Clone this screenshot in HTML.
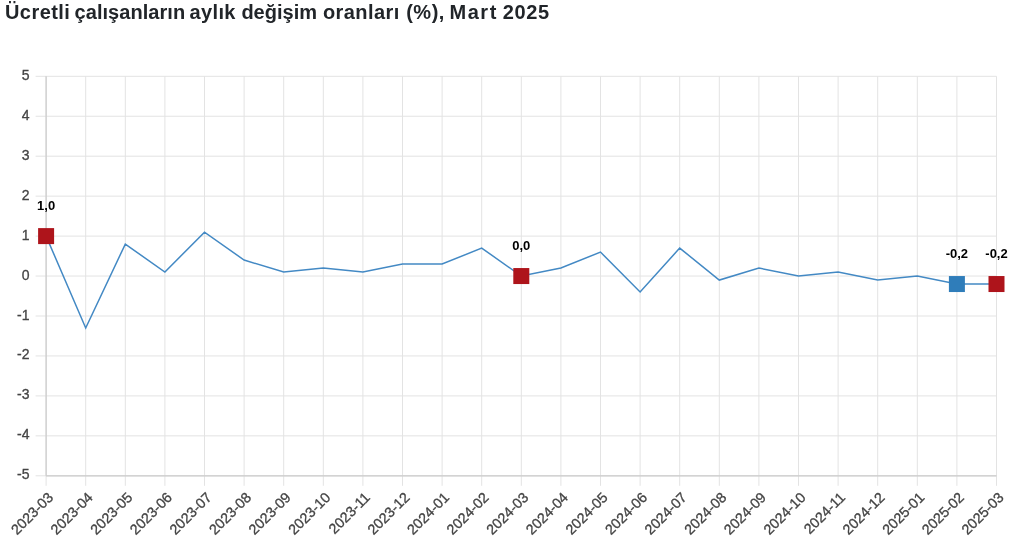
<!DOCTYPE html>
<html lang="tr"><head><meta charset="utf-8"><title>Ücretli çalışanların aylık değişim oranları</title>
<style>
html,body{margin:0;padding:0;background:#fff;}
body{width:1024px;height:558px;overflow:hidden;position:relative;font-family:"Liberation Sans",sans-serif;}
h1{position:absolute;left:0;top:-0.4px;margin:0;font-size:20px;line-height:24px;font-weight:bold;color:#212529;white-space:nowrap;width:1024px;height:24px;}
h1 span{position:absolute;top:0;}
svg{position:absolute;left:0;top:0;}
svg text{font-family:"Liberation Sans",sans-serif;}
.yt{font-size:14px;fill:#444;text-anchor:end;stroke:#444;stroke-width:0.3px;}
.xt{font-size:14.3px;fill:#444;text-anchor:end;stroke:#444;stroke-width:0.3px;}
.dl{font-size:13px;font-weight:bold;fill:#000;text-anchor:middle;}
</style></head><body>
<h1><span style="left:5.0px;letter-spacing:0.43px">Ücretli</span> <span style="left:74.6px;letter-spacing:0.04px">çalışanların</span> <span style="left:189.6px;letter-spacing:0.35px">aylık</span> <span style="left:241.4px;letter-spacing:0.0px">değişim</span> <span style="left:322.9px;letter-spacing:0.44px">oranları</span> <span style="left:406.2px;letter-spacing:0.5px">(%),</span> <span style="left:449.4px;letter-spacing:1.6px">Mart</span> <span style="left:502.7px;letter-spacing:0.67px">2025</span></h1>
<svg width="1024" height="558" viewBox="0 0 1024 558">
<g stroke="#e3e3e3" stroke-width="1" fill="none"><line x1="35.60" y1="475.80" x2="996.50" y2="475.80"/><line x1="35.60" y1="435.85" x2="996.50" y2="435.85"/><line x1="35.60" y1="395.90" x2="996.50" y2="395.90"/><line x1="35.60" y1="355.95" x2="996.50" y2="355.95"/><line x1="35.60" y1="316.00" x2="996.50" y2="316.00"/><line x1="35.60" y1="276.05" x2="996.50" y2="276.05"/><line x1="35.60" y1="236.10" x2="996.50" y2="236.10"/><line x1="35.60" y1="196.15" x2="996.50" y2="196.15"/><line x1="35.60" y1="156.20" x2="996.50" y2="156.20"/><line x1="35.60" y1="116.25" x2="996.50" y2="116.25"/><line x1="35.60" y1="76.30" x2="996.50" y2="76.30"/><line x1="46.10" y1="76.30" x2="46.10" y2="485.80"/><line x1="85.70" y1="76.30" x2="85.70" y2="485.80"/><line x1="125.30" y1="76.30" x2="125.30" y2="485.80"/><line x1="164.90" y1="76.30" x2="164.90" y2="485.80"/><line x1="204.50" y1="76.30" x2="204.50" y2="485.80"/><line x1="244.10" y1="76.30" x2="244.10" y2="485.80"/><line x1="283.70" y1="76.30" x2="283.70" y2="485.80"/><line x1="323.30" y1="76.30" x2="323.30" y2="485.80"/><line x1="362.90" y1="76.30" x2="362.90" y2="485.80"/><line x1="402.50" y1="76.30" x2="402.50" y2="485.80"/><line x1="442.10" y1="76.30" x2="442.10" y2="485.80"/><line x1="481.70" y1="76.30" x2="481.70" y2="485.80"/><line x1="521.30" y1="76.30" x2="521.30" y2="485.80"/><line x1="560.90" y1="76.30" x2="560.90" y2="485.80"/><line x1="600.50" y1="76.30" x2="600.50" y2="485.80"/><line x1="640.10" y1="76.30" x2="640.10" y2="485.80"/><line x1="679.70" y1="76.30" x2="679.70" y2="485.80"/><line x1="719.30" y1="76.30" x2="719.30" y2="485.80"/><line x1="758.90" y1="76.30" x2="758.90" y2="485.80"/><line x1="798.50" y1="76.30" x2="798.50" y2="485.80"/><line x1="838.10" y1="76.30" x2="838.10" y2="485.80"/><line x1="877.70" y1="76.30" x2="877.70" y2="485.80"/><line x1="917.30" y1="76.30" x2="917.30" y2="485.80"/><line x1="956.90" y1="76.30" x2="956.90" y2="485.80"/><line x1="996.50" y1="76.30" x2="996.50" y2="485.80"/></g>
<line x1="46.10" y1="76.30" x2="46.10" y2="475.80" stroke="#cbcbcb" stroke-width="1.2"/>
<line x1="46.10" y1="475.80" x2="996.50" y2="475.80" stroke="#cbcbcb" stroke-width="1.2"/>
<text class="yt" x="29.5" y="479.30">-5</text><text class="yt" x="29.5" y="439.35">-4</text><text class="yt" x="29.5" y="399.40">-3</text><text class="yt" x="29.5" y="359.45">-2</text><text class="yt" x="29.5" y="319.50">-1</text><text class="yt" x="29.5" y="279.55">0</text><text class="yt" x="29.5" y="239.60">1</text><text class="yt" x="29.5" y="199.65">2</text><text class="yt" x="29.5" y="159.70">3</text><text class="yt" x="29.5" y="119.75">4</text><text class="yt" x="29.5" y="79.80">5</text>
<text class="xt" transform="translate(54.10,498.30) rotate(-45)">2023-03</text><text class="xt" transform="translate(93.70,498.30) rotate(-45)">2023-04</text><text class="xt" transform="translate(133.30,498.30) rotate(-45)">2023-05</text><text class="xt" transform="translate(172.90,498.30) rotate(-45)">2023-06</text><text class="xt" transform="translate(212.50,498.30) rotate(-45)">2023-07</text><text class="xt" transform="translate(252.10,498.30) rotate(-45)">2023-08</text><text class="xt" transform="translate(291.70,498.30) rotate(-45)">2023-09</text><text class="xt" transform="translate(331.30,498.30) rotate(-45)">2023-10</text><text class="xt" transform="translate(370.90,498.30) rotate(-45)">2023-11</text><text class="xt" transform="translate(410.50,498.30) rotate(-45)">2023-12</text><text class="xt" transform="translate(450.10,498.30) rotate(-45)">2024-01</text><text class="xt" transform="translate(489.70,498.30) rotate(-45)">2024-02</text><text class="xt" transform="translate(529.30,498.30) rotate(-45)">2024-03</text><text class="xt" transform="translate(568.90,498.30) rotate(-45)">2024-04</text><text class="xt" transform="translate(608.50,498.30) rotate(-45)">2024-05</text><text class="xt" transform="translate(648.10,498.30) rotate(-45)">2024-06</text><text class="xt" transform="translate(687.70,498.30) rotate(-45)">2024-07</text><text class="xt" transform="translate(727.30,498.30) rotate(-45)">2024-08</text><text class="xt" transform="translate(766.90,498.30) rotate(-45)">2024-09</text><text class="xt" transform="translate(806.50,498.30) rotate(-45)">2024-10</text><text class="xt" transform="translate(846.10,498.30) rotate(-45)">2024-11</text><text class="xt" transform="translate(885.70,498.30) rotate(-45)">2024-12</text><text class="xt" transform="translate(925.30,498.30) rotate(-45)">2025-01</text><text class="xt" transform="translate(964.90,498.30) rotate(-45)">2025-02</text><text class="xt" transform="translate(1004.50,498.30) rotate(-45)">2025-03</text>
<polyline points="46.10,236.10 85.70,327.99 125.30,244.09 164.90,272.06 204.50,232.11 244.10,260.07 283.70,272.06 323.30,268.06 362.90,272.06 402.50,264.06 442.10,264.06 481.70,248.08 521.30,276.05 560.90,268.06 600.50,252.08 640.10,292.03 679.70,248.08 719.30,280.05 758.90,268.06 798.50,276.05 838.10,272.06 877.70,280.05 917.30,276.05 956.90,284.04 996.50,284.04" fill="none" stroke="#4389c4" stroke-width="1.5" stroke-linejoin="miter"/>
<rect x="38.10" y="228.10" width="16" height="16" fill="#ae141b"/><text class="dl" x="46.10" y="210.10">1,0</text><rect x="513.30" y="268.05" width="16" height="16" fill="#ae141b"/><text class="dl" x="521.30" y="250.05">0,0</text><rect x="948.90" y="276.04" width="16" height="16" fill="#2f7dba"/><text class="dl" x="956.90" y="258.04">-0,2</text><rect x="988.50" y="276.04" width="16" height="16" fill="#ae141b"/><text class="dl" x="996.50" y="258.04">-0,2</text>
</svg>
</body></html>
